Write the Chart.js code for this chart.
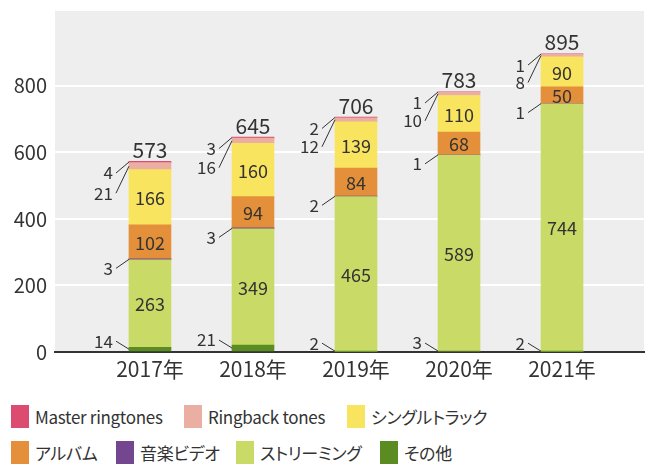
<!DOCTYPE html>
<html>
<head>
<meta charset="utf-8">
<script src="https://cdn.jsdelivr.net/npm/chart.js@4/dist/chart.umd.min.js"></script>
<style>
  body { margin: 0; background: #fff; font-family: 'Noto Sans CJK JP', sans-serif; }
  #wrap { position: relative; width: 649px; height: 464px; overflow: hidden; }
  #legend { position: absolute; left: 11px; top: 405px; color: #333; font-size: 17px; letter-spacing: -0.3px; font-feature-settings: "palt"; }
  .row { display: flex; height: 23px; margin-bottom: 13px; align-items: center; }
  .item { display: flex; align-items: center; flex: none; white-space: nowrap; }
  .sw { width: 18px; height: 23px; margin-right: 6px; flex: none; }
</style>
</head>
<body>
<div id="wrap">
  <canvas id="chart" width="649" height="392"></canvas>
  <div id="legend"></div>
</div>
<script>
// categories
const years = ['2017年', '2018年', '2019年', '2020年', '2021年']

// series values, bottom of the stack first
const other     = [14, 21, 2, 3, 2]
const streaming = [263, 349, 465, 589, 744]
const video     = [3, 3, 2, 1, 1]
const album     = [102, 94, 84, 68, 50]
const single    = [166, 160, 139, 110, 90]
const ringback  = [21, 16, 12, 10, 8]
const master    = [4, 3, 2, 1, 1]

// totals as printed above the bars
const totals = [573, 645, 706, 783, 895]

// y axis tick labels
const yTicks = [0, 200, 400, 600, 800]

const series = [
    { label: 'その他', data: other, color: '#5b8c22', leader: -8 },
    { label: 'ストリーミング', data: streaming, color: '#c9da66' },
    { label: '音楽ビデオ', data: video, color: '#74468f', leader: 9 },
    { label: 'アルバム', data: album, color: '#e4903a' },
    { label: 'シングルトラック', data: single, color: '#f8e45f' },
    { label: 'Ringback tones', data: ringback, color: '#ebaea2', leader: 27 },
    { label: 'Master ringtones', data: master, color: '#dc4c70', leader: 11 },
]

// legend rows as in the picture, with item widths
const legendRows = [
    [['Master ringtones', 173], ['Ringback tones', 163], ['シングルトラック', 0]],
    [['アルバム', 105], ['音楽ビデオ', 120], ['ストリーミング', 144], ['その他', 0]],
]

const FONT = "'Noto Sans CJK JP', sans-serif"

const plotBg = {
    id: 'plotBg',
    beforeDraw(chart) {
        const { ctx, chartArea: a } = chart
        ctx.save()
        ctx.fillStyle = '#eeeeee'
        ctx.fillRect(a.left, a.top, a.right - a.left, a.bottom - a.top)
        ctx.restore()
    }
}

const barLabels = {
    id: 'barLabels',
    afterDatasetsDraw(chart) {
        const ctx = chart.ctx
        ctx.save()
        ctx.fillStyle = '#333'
        ctx.strokeStyle = '#333'
        ctx.lineWidth = 1
        chart.data.datasets.forEach((ds, di) => {
            const meta = chart.getDatasetMeta(di)
            meta.data.forEach((bar, i) => {
                const v = ds.data[i].y
                const mid = (bar.y + bar.base) / 2
                if (v >= 40) {
                    ctx.font = '18px ' + FONT
                    ctx.textAlign = 'center'
                    ctx.textBaseline = 'middle'
                    ctx.fillText(String(v), bar.x, mid + 1)
                } else {
                    // small values sit left of the bar with a leader line
                    const left = bar.x - bar.width / 2
                    const ly = mid + series[di].leader
                    ctx.beginPath()
                    ctx.moveTo(left - 13, ly)
                    ctx.lineTo(left, mid)
                    ctx.stroke()
                    ctx.font = '17px ' + FONT
                    ctx.textAlign = 'right'
                    ctx.textBaseline = 'middle'
                    ctx.fillText(String(v), left - 16, ly)
                }
            })
        })
        // totals
        const topMeta = chart.getDatasetMeta(chart.data.datasets.length - 1)
        ctx.font = '21px ' + FONT
        ctx.textAlign = 'center'
        ctx.textBaseline = 'bottom'
        topMeta.data.forEach((bar, i) => {
            ctx.fillText(String(totals[i]), bar.x, bar.y - 1)
        })
        ctx.restore()
    }
}

new Chart(document.getElementById('chart'), {
    type: 'bar',
    data: {
        datasets: series.map(s => ({
            label: s.label,
            data: s.data.map((v, i) => ({ x: i, y: v })),
            backgroundColor: s.color,
            borderWidth: 0,
            barThickness: 42,
        }))
    },
    options: {
        responsive: false,
        animation: false,
        layout: { padding: { top: 11, right: 5, left: 0, bottom: 0 } },
        plugins: { legend: { display: false }, tooltip: { enabled: false } },
        scales: {
            x: {
                type: 'linear',
                stacked: true,
                offset: false,
                min: -0.922,
                max: 4.796,
                afterBuildTicks: s => { s.ticks = years.map((y, i) => ({ value: i })) },
                afterFit: s => { s.height = 40; s.paddingLeft = 0; s.paddingRight = 0 },
                grid: { display: false },
                border: { display: true, color: '#333', width: 2 },
                ticks: {
                    callback: v => years[v],
                    font: { family: FONT, size: 21 },
                    color: '#333',
                    padding: -4,
                    maxRotation: 0,
                    autoSkip: false,
                }
            },
            y: {
                stacked: true,
                min: 0,
                max: 1025,
                afterBuildTicks: s => { s.ticks = yTicks.map(v => ({ value: v })) },
                afterFit: s => { s.width = 55; s.paddingTop = 0; s.paddingBottom = 0 },
                grid: {
                    color: c => c.tick && c.tick.value === 0 ? 'rgba(0,0,0,0)' : '#ffffff',
                    lineWidth: 2,
                    drawTicks: false,
                },
                border: { display: false },
                ticks: {
                    font: { family: FONT, size: 20 },
                    color: '#333',
                    padding: 8,
                }
            }
        }
    },
    plugins: [plotBg, barLabels]
})

// html legend
const legend = document.getElementById('legend')
legendRows.forEach(row => {
    const r = document.createElement('div')
    r.className = 'row'
    row.forEach(([name, w]) => {
        const s = series.find(x => x.label === name)
        const it = document.createElement('div')
        it.className = 'item'
        if (w) it.style.width = w + 'px'
        it.innerHTML = '<span class="sw" style="background:' + s.color + '"></span><span>' + name + '</span>'
        r.appendChild(it)
    })
    legend.appendChild(r)
})
</script>
</body>
</html>
